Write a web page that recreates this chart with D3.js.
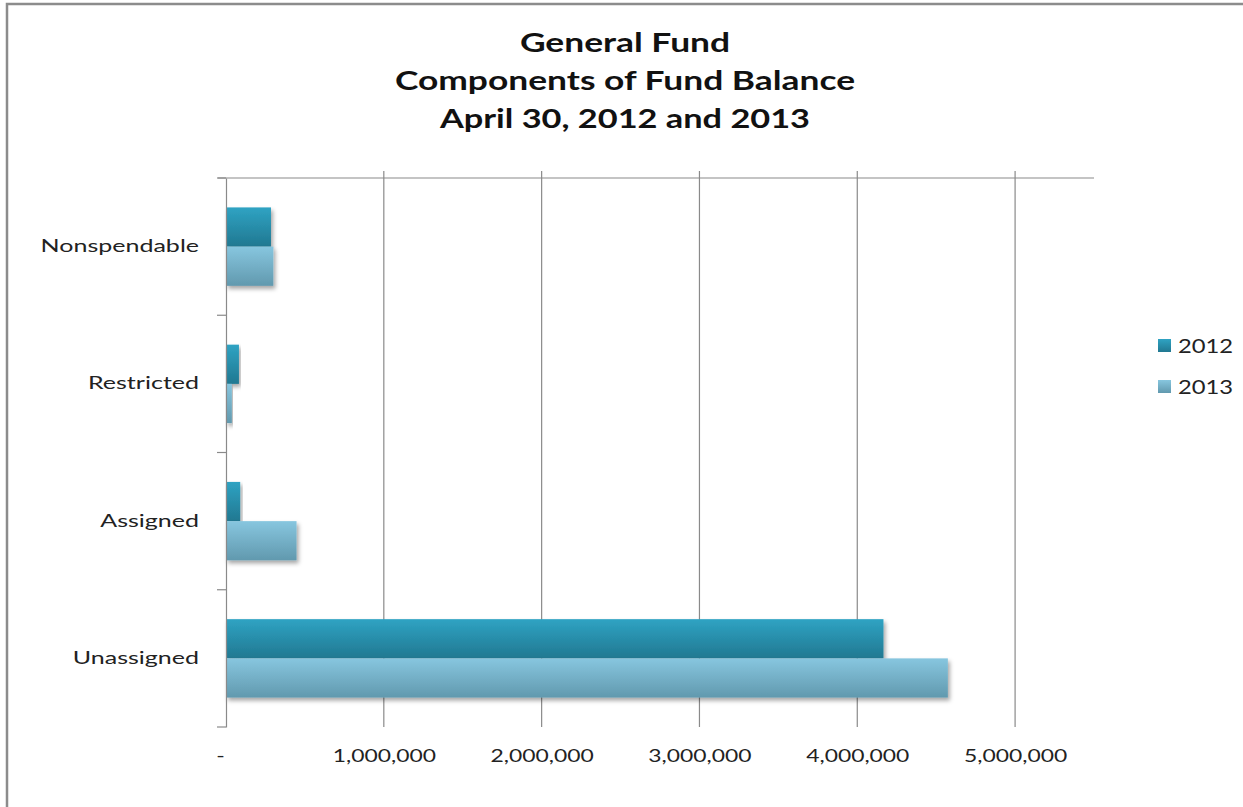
<!DOCTYPE html>
<html>
<head>
<meta charset="utf-8">
<script src="https://cdn.jsdelivr.net/npm/d3@7"></script>
<style>
  html, body { margin: 0; padding: 0; background: #fff; }
  svg { display: block; }
  svg text { font-family: Lato, "Open Sans", sans-serif; }
</style>
</head>
<body>
<svg id="chart" width="1243" height="807"></svg>
<script>
// Fund balance components, in dollars
const categories = ["Nonspendable", "Restricted", "Assigned", "Unassigned"];
const seriesNames = ["2012", "2013"];
const values2012 = [285000, 82000, 90000, 4166000];
const values2013 = [300000, 37000, 447000, 4574000];
const tickValues = [0, 1000000, 2000000, 3000000, 4000000, 5000000];
const titleLines = ["General Fund", "Components of Fund Balance", "April 30, 2012 and 2013"];

const svg = d3.select("#chart");
const W = 1243, H = 807;
const plot = { left: 226, right: 1094, top: 178, bottom: 727 };

// Widen text horizontally (the chart's type is set wide)
function widen(sel, factor) {
  sel.each(function (d, i) {
    const k = typeof factor === "function" ? factor(d, i) : factor;
    const len = this.getComputedTextLength();
    d3.select(this).attr("textLength", len * k).attr("lengthAdjust", "spacingAndGlyphs");
  });
}

// Frame (left and top edges only)
svg.append("path")
  .attr("d", `M7,${H} L7,4 L${W},4`)
  .attr("fill", "none").attr("stroke", "#8c8c8c").attr("stroke-width", 2.5);

const defs = svg.append("defs");
const grads = [
  { id: "g2012", top: "#2fa3c3", bottom: "#217891" },
  { id: "g2013", top: "#87c6df", bottom: "#6199ae" }
];
grads.forEach(g => {
  const lg = defs.append("linearGradient").attr("id", g.id)
    .attr("x1", 0).attr("y1", 0).attr("x2", 0).attr("y2", 1);
  lg.append("stop").attr("offset", "0%").attr("stop-color", g.top);
  lg.append("stop").attr("offset", "100%").attr("stop-color", g.bottom);
});
const f = defs.append("filter").attr("id", "shadow")
  .attr("x", "-5%").attr("y", "-20%").attr("width", "120%").attr("height", "160%");
f.append("feDropShadow").attr("dx", 2).attr("dy", 3).attr("stdDeviation", 2.2)
  .attr("flood-color", "#000").attr("flood-opacity", 0.35);

const x = d3.scaleLinear().domain([0, 5500000]).range([plot.left, plot.right]);
const y = d3.scaleBand().domain(categories).range([plot.top, plot.bottom]).paddingInner(0).paddingOuter(0);
const inner = d3.scaleBand().domain(seriesNames).range([0, y.bandwidth()]).paddingInner(0).paddingOuter(0.75);

// Vertical gridlines
svg.append("g").selectAll("line")
  .data(tickValues.filter(d => d > 0))
  .join("line")
  .attr("x1", d => x(d)).attr("x2", d => x(d))
  .attr("y1", plot.top - 7).attr("y2", plot.bottom)
  .attr("stroke", "#8a8a8a").attr("stroke-width", 1.2);

// Top border line of the plot area
svg.append("line")
  .attr("x1", plot.left - 8).attr("x2", plot.right)
  .attr("y1", plot.top).attr("y2", plot.top)
  .attr("stroke", "#8a8a8a").attr("stroke-width", 1.2);

// Bars
const rows = categories.map((c, i) => ({ cat: c, vals: [values2012[i], values2013[i]] }));
const gBars = svg.append("g");
rows.forEach(r => {
  r.vals.forEach((v, j) => {
    gBars.append("rect")
      .attr("x", x(0))
      .attr("y", y(r.cat) + inner(seriesNames[j]))
      .attr("width", x(v) - x(0))
      .attr("height", inner.bandwidth())
      .attr("fill", `url(#g${seriesNames[j]})`)
      .attr("filter", "url(#shadow)");
  });
});

// Category axis
const yAxis = d3.axisLeft(y).tickSize(0).tickPadding(27);
const gy = svg.append("g").attr("transform", `translate(${plot.left},0)`).call(yAxis);
gy.attr("font-family", null);
gy.select(".domain").attr("stroke", "#8a8a8a").attr("stroke-width", 1.2);
gy.selectAll("text").attr("font-size", 18).attr("fill", "#222").attr("dy", "0.3em");
widen(gy.selectAll("text"), 1.39);
// Category boundary ticks
const bounds = categories.map(c => y(c)).concat([plot.bottom]);
svg.append("g").selectAll("line").data(bounds).join("line")
  .attr("x1", plot.left - 9).attr("x2", plot.left)
  .attr("y1", d => d).attr("y2", d => d)
  .attr("stroke", "#8a8a8a").attr("stroke-width", 1.2);

// Value axis labels
const fmt = d => d === 0 ? "-" : d3.format(",")(d);
const xAxis = d3.axisBottom(x).tickValues(tickValues).tickFormat(fmt).tickSize(0).tickPadding(22);
const gx = svg.append("g").attr("transform", `translate(0,${plot.bottom})`).call(xAxis);
gx.attr("font-family", null);
gx.select(".domain").remove();
gx.selectAll("text").attr("font-size", 18).attr("fill", "#222");
widen(gx.selectAll("text"), 1.27);
gx.selectAll(".tick").filter(d => d === 0).select("text").attr("dx", -6);

// Title
const titleStretch = [1.36, 1.36, 1.32];
const title = svg.append("g").selectAll("text").data(titleLines).join("text")
  .attr("x", 625).attr("y", (d, i) => 52 + i * 38)
  .attr("text-anchor", "middle")
  .attr("font-weight", "bold").attr("font-size", 26).attr("fill", "#111")
  .text(d => d);
widen(title, (d, i) => titleStretch[i]);

// Legend
const legend = svg.append("g").attr("transform", "translate(1158,339)");
seriesNames.forEach((s, i) => {
  const g = legend.append("g").attr("transform", `translate(0,${i * 41})`);
  g.append("rect").attr("width", 13).attr("height", 13).attr("fill", `url(#g${s})`);
  const t = g.append("text").attr("x", 20).attr("y", 7).attr("dy", "0.35em")
    .attr("font-size", 19).attr("fill", "#222").text(s);
  widen(t, 1.25);
});
</script>
</body>
</html>
